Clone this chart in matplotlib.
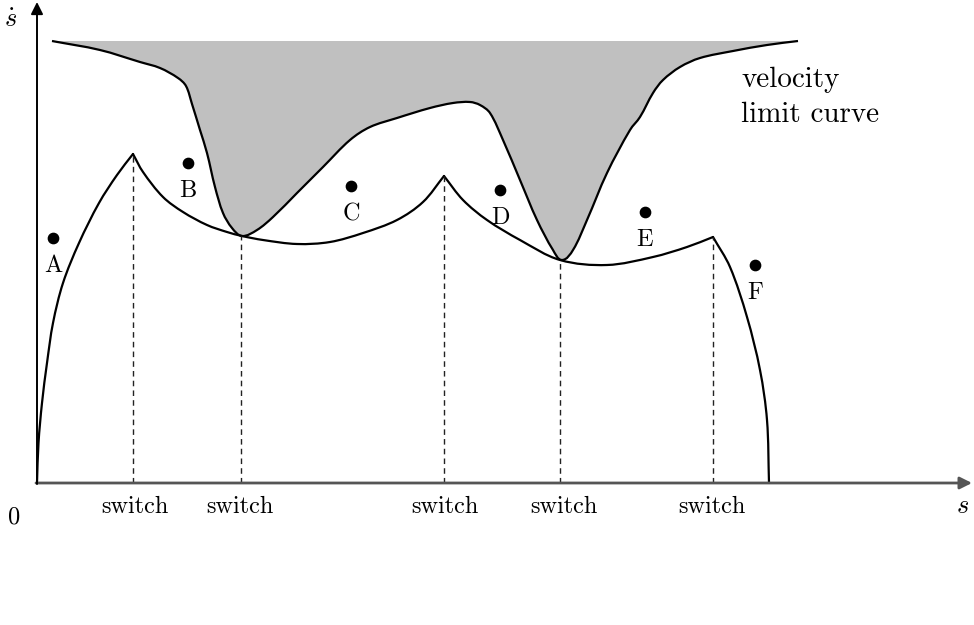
import matplotlib
matplotlib.use("Agg")
import matplotlib.pyplot as plt
from matplotlib.path import Path
from matplotlib.patches import PathPatch
import numpy as np

plt.rcParams['mathtext.fontset'] = 'cm'

# x to the right, y downwards (origin of the s axes at 37, 483)
origin = (37, 483)
top_y = 41

# velocity limit curve
vlc_x = [52, 100, 140, 160, 178, 186, 192, 200, 207, 215, 223, 232, 242, 257, 273, 297,
         323, 350, 370, 397, 430, 453, 470, 480, 490, 503, 520, 537, 553, 562, 573, 587,
         607, 630, 640, 653, 663, 680, 700, 733, 767, 798]
vlc_y = [41, 50, 62, 68, 78, 86, 104, 130, 153, 187, 213, 228, 236, 230, 217, 193,
         167, 140, 127, 118, 108, 103, 102, 105, 113, 140, 180, 220, 250, 260, 250, 220,
         173, 130, 117, 93, 80, 67, 58, 51, 45, 41]

# switching trajectory, one piece per accel / decel arc
traj_x = [
    [37, 38.5, 42, 47, 53, 63, 79, 99, 117, 133],
    [133, 143, 163, 183, 207, 227, 242, 263, 297, 330, 363, 397, 423, 444],
    [444, 463, 487, 520, 560, 607, 653, 687, 713],
    [713, 730, 747, 760, 767, 769],
]
traj_y = [
    [483, 443, 403, 363, 323, 283, 243, 203, 175, 154],
    [154, 172, 197, 212, 225, 232, 236, 240, 244, 242, 233, 220, 202, 176],
    [176, 200, 220, 240, 260, 265, 257, 247, 237],
    [237, 267, 317, 370, 420, 483],
]

# switch points
switch_x = [133, 241, 444, 560, 713]
switch_y = [154, 236, 176, 260, 237]
switch_lbl_x = [135, 240, 445, 564, 712]

# sample states
pt_x = [53, 188, 351, 500, 645, 755]
pt_y = [238, 163, 186, 190, 212, 265]
pt_lbl = ['A', 'B', 'C', 'D', 'E', 'F']


def smooth(xs, ys, close=False):
    # bezier pieces through the traced points, tangent from the neighbours
    p = np.column_stack([xs, ys]).astype(float)
    n = len(p)
    tang = []
    for i in range(n):
        a = p[max(i - 1, 0)]
        b = p[min(i + 1, n - 1)]
        d = b - a
        tang.append(d / np.hypot(*d))
    verts = [tuple(p[0])]
    codes = [Path.MOVETO]
    for i in range(n - 1):
        L = np.hypot(*(p[i + 1] - p[i])) / 3
        verts += [tuple(p[i] + tang[i] * L), tuple(p[i + 1] - tang[i + 1] * L), tuple(p[i + 1])]
        codes += [Path.CURVE4] * 3
    if close:
        verts.append(tuple(p[0]))
        codes.append(Path.CLOSEPOLY)
    return Path(verts, codes)


fig = plt.figure(figsize=(9.74, 6.25), dpi=100)
ax = fig.add_axes([0, 0, 1, 1])
ax.set_xlim(0, 974)
ax.set_ylim(625, 0)
ax.axis('off')

# grey region above the limit curve
ax.add_patch(PathPatch(smooth(vlc_x, vlc_y, close=True), facecolor='#c0c0c0', edgecolor='none'))
ax.add_patch(PathPatch(smooth(vlc_x, vlc_y), facecolor='none', edgecolor='black', lw=1.6))

for xs, ys in zip(traj_x, traj_y):
    ax.add_patch(PathPatch(smooth(xs, ys), facecolor='none', edgecolor='black', lw=1.6,
                           capstyle='round'))

for x, y in zip(switch_x, switch_y):
    ax.plot([x, x], [origin[1], y], color='#222222', lw=1.0, ls=(0, (4, 3)))

for x in switch_lbl_x:
    ax.text(x, 507, 'switch', family='cmr10', fontsize=17.5, ha='center', va='center')

ax.scatter(pt_x, pt_y, s=55, color='black', zorder=5)
for x, y, l in zip(pt_x, pt_y, pt_lbl):
    ax.text(x, y + 28, l, family='cmr10', fontsize=17.5, ha='center', va='center')

# axes with arrows
ax.annotate('', xy=(972, origin[1]), xytext=(origin[0] - 1, origin[1]),
            arrowprops=dict(arrowstyle='-|>', color='#555555', lw=2.0,
                            mutation_scale=18, shrinkA=0, shrinkB=0))
ax.annotate('', xy=(origin[0], 2), xytext=(origin[0], origin[1] + 1),
            arrowprops=dict(arrowstyle='-|>', color='black', lw=1.4,
                            mutation_scale=18, shrinkA=0, shrinkB=0))

ax.text(14, 517, '0', family='cmr10', fontsize=17.5, ha='center', va='center')
ax.text(962, 506, '$s$', fontsize=19, ha='center', va='center')
ax.text(10, 20, r'$\dot{s}$', fontsize=19, ha='center', va='center')
ax.text(741, 80, 'velocity', family='cmr10', fontsize=21, ha='left', va='center')
ax.text(741, 115, 'limit curve', family='cmr10', fontsize=21, ha='left', va='center')

fig.savefig('out.png', dpi=100)
